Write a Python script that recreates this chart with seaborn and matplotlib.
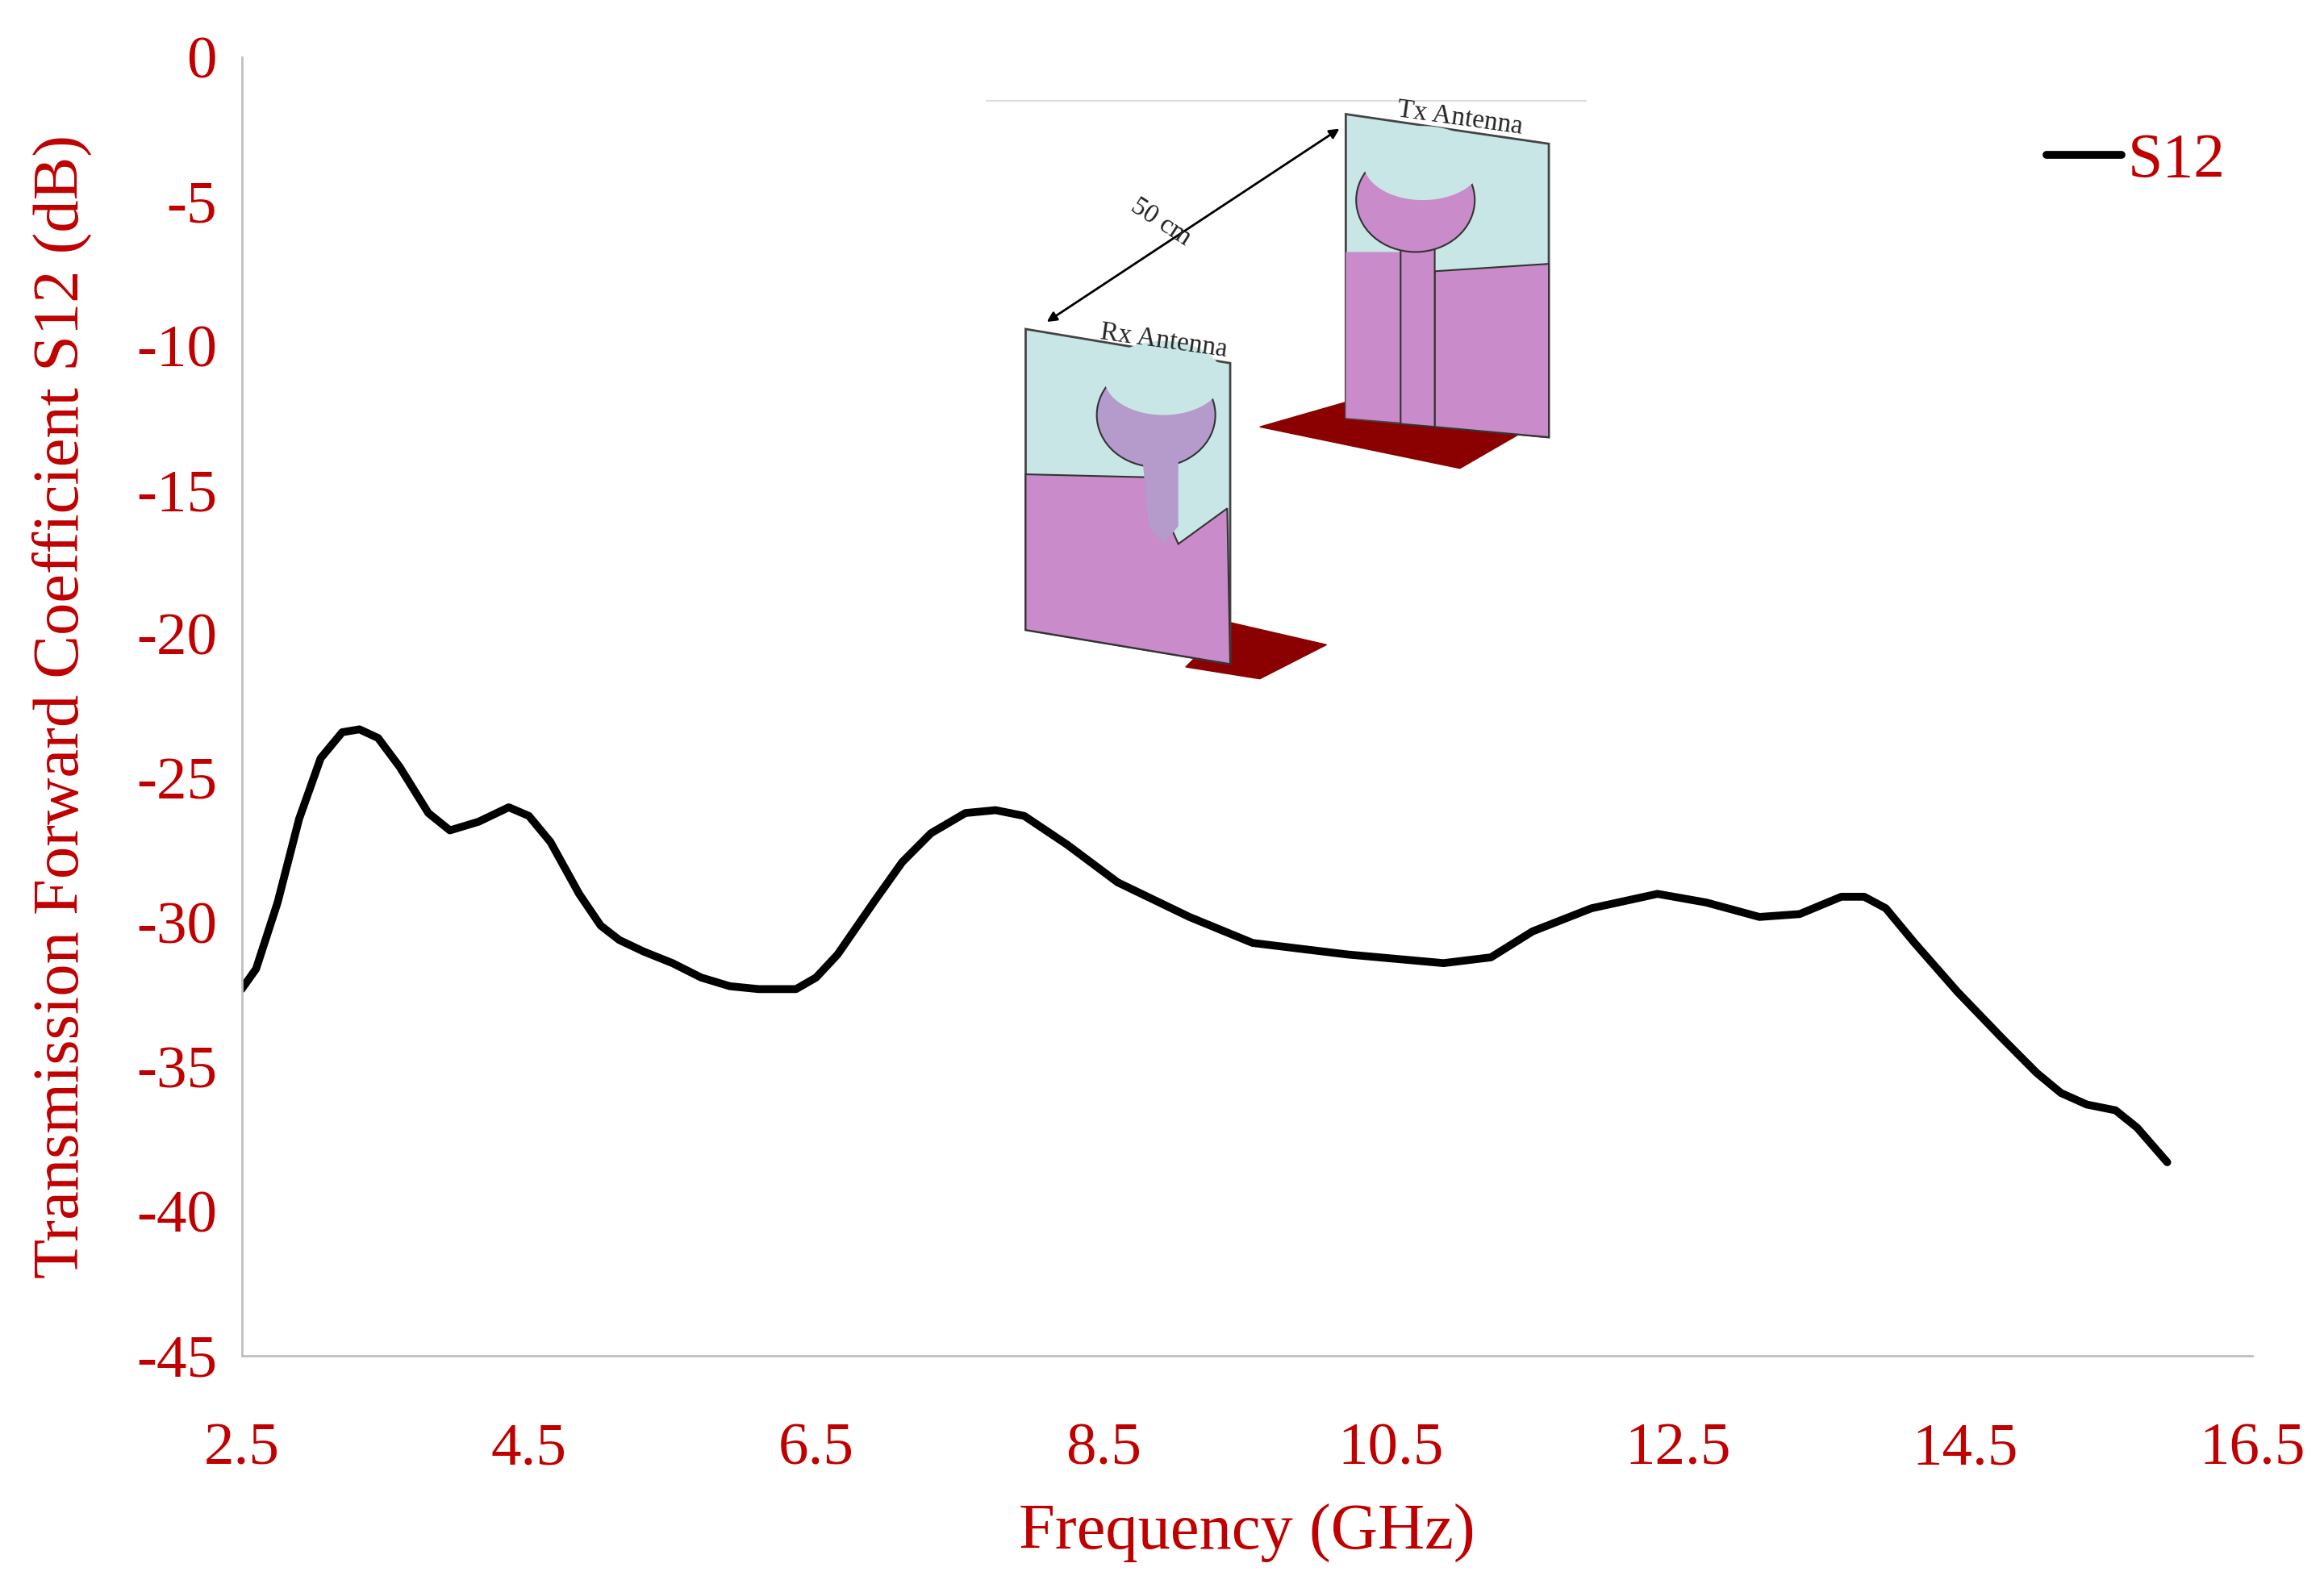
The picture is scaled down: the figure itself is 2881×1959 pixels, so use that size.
import numpy as np
import pandas as pd
import matplotlib.pyplot as plt
import seaborn as sns
from matplotlib.patches import Polygon, Ellipse

freq = [2.5, 2.6, 2.75, 2.9, 3.05, 3.2, 3.32, 3.45, 3.6, 3.8, 3.95, 4.15, 4.36, 4.5,
        4.65, 4.85, 5.0, 5.13, 5.3, 5.5, 5.7, 5.9, 6.1, 6.36, 6.5, 6.65, 6.9, 7.1,
        7.3, 7.54, 7.75, 7.95, 8.25, 8.6, 9.1, 9.54, 10.2, 10.87, 11.2, 11.49, 11.9,
        12.36, 12.7, 13.07, 13.35, 13.64, 13.8, 13.95, 14.15, 14.45, 14.76, 15.0,
        15.17, 15.35, 15.55, 15.7, 15.91]
s12 = [-32.3, -31.6, -29.3, -26.4, -24.3, -23.4, -23.3, -23.6, -24.6, -26.2, -26.8,
       -26.5, -26.0, -26.3, -27.2, -29.0, -30.1, -30.6, -31.0, -31.4, -31.9, -32.2,
       -32.3, -32.3, -31.9, -31.1, -29.3, -27.9, -26.9, -26.2, -26.1, -26.3, -27.3,
       -28.6, -29.8, -30.7, -31.1, -31.4, -31.2, -30.3, -29.5, -29.0, -29.3, -29.8,
       -29.7, -29.1, -29.1, -29.5, -30.7, -32.4, -34.0, -35.2, -35.9, -36.3, -36.5,
       -37.1, -38.3]
yticks = [0, -5, -10, -15, -20, -25, -30, -35, -40, -45]
xticks = [2.5, 4.5, 6.5, 8.5, 10.5, 12.5, 14.5, 16.5]

sns.set_style("white")
plt.rcParams['font.family'] = ['Liberation Serif', 'DejaVu Serif']
plt.rcParams['axes.unicode_minus'] = False
red = '#C00000'

df = pd.DataFrame({'Frequency': freq, 'S12': s12})
fig = plt.figure(figsize=(28.81, 19.59), dpi=100)
ax = fig.add_axes([0.104, 0.142, 0.865, 0.822])
sns.lineplot(data=df, x='Frequency', y='S12', ax=ax, color='black', lw=7, label='S12')
ax.set_xlim(2.5, 16.5)
ax.set_ylim(-45, 0)
ax.set_xticks(xticks)
ax.set_xticklabels([str(t) for t in xticks])
ax.set_yticks(yticks)
ax.set_yticklabels([str(t) for t in yticks])
ax.tick_params(labelsize=54, colors=red, length=0)
ax.tick_params(axis='x', pad=60)
ax.tick_params(axis='y', pad=22)
for s in ['top', 'right']:
    ax.spines[s].set_visible(False)
for s in ['left', 'bottom']:
    ax.spines[s].set_color('#BFBFBF')
    ax.spines[s].set_linewidth(2)
ax.set_xlabel('Frequency (GHz)', fontsize=58, color=red, labelpad=24)
ax.set_ylabel('Transmission Forward Coefficient S12 (dB)', fontsize=58, color=red, labelpad=40)
leg = ax.legend(loc='upper right', bbox_to_anchor=(1.015, 0.985), frameon=False,
                fontsize=56, handlelength=1.2, handletextpad=0.1)
for t in leg.get_texts():
    t.set_color(red)

# inset sketch of the antenna setup (coordinates in reference pixels)
ins = fig.add_axes([665 / 1568, 1 - 462 / 1066, 410 / 1568, 400 / 1066])
ins.set_xlim(665, 1075)
ins.set_ylim(462, 62)
ins.axis('off')
cyan, mag, dark = '#C9E6E6', '#C98BC9', '#8B0000'
ins.plot([665, 1070], [68, 68], color='#DDDDDD', lw=1.5)
# Tx
ins.add_patch(Polygon([(850, 288), (930, 265), (1030, 290), (985, 316)], color=dark))
ins.add_patch(Polygon([(908, 77), (1045, 97), (1045, 295), (908, 282)], fc=cyan, ec='#444444', lw=2))
ins.add_patch(Polygon([(908, 170), (945, 170), (945, 285), (908, 282)], fc=mag, ec='none'))
ins.add_patch(Polygon([(968, 183), (1045, 178), (1045, 295), (968, 288)], fc=mag, ec='#333333', lw=1.5))
ins.add_patch(Polygon([(945, 165), (968, 165), (968, 288), (945, 286)], fc=mag, ec='#333333', lw=1.5))
ins.add_patch(Ellipse((955, 135), 80, 70, fc=mag, ec='#333333', lw=1.5))
ins.add_patch(Ellipse((960, 110), 80, 50, fc=cyan, ec='none'))
ins.text(985, 80, 'Tx Antenna', fontsize=24, rotation=-8, ha='center', va='center')
# Rx
ins.add_patch(Polygon([(800, 450), (830, 420), (895, 435), (850, 458)], color=dark))
ins.add_patch(Polygon([(692, 222), (830, 245), (830, 448), (692, 425)], fc=cyan, ec='#444444', lw=2))
ins.add_patch(Polygon([(692, 320), (775, 322), (795, 367), (828, 343), (830, 448), (692, 425)],
                      fc=mag, ec='#333333', lw=1.5))
ins.add_patch(Ellipse((780, 280), 80, 70, fc='#B59BCB', ec='#333333', lw=1.5))
ins.add_patch(Ellipse((785, 255), 80, 50, fc=cyan, ec='none'))
ins.add_patch(Polygon([(770, 300), (795, 300), (795, 355), (785, 367), (775, 355)], fc='#B59BCB', ec='none'))
ins.text(785, 230, 'Rx Antenna', fontsize=24, rotation=-8, ha='center', va='center')
ins.annotate('', xy=(705, 218), xytext=(905, 86),
             arrowprops=dict(arrowstyle='<|-|>', color='black', lw=2, mutation_scale=18))
ins.text(783, 150, '50 cm', fontsize=24, rotation=-33, ha='center', va='center')

fig.savefig('out.png', dpi=100)
